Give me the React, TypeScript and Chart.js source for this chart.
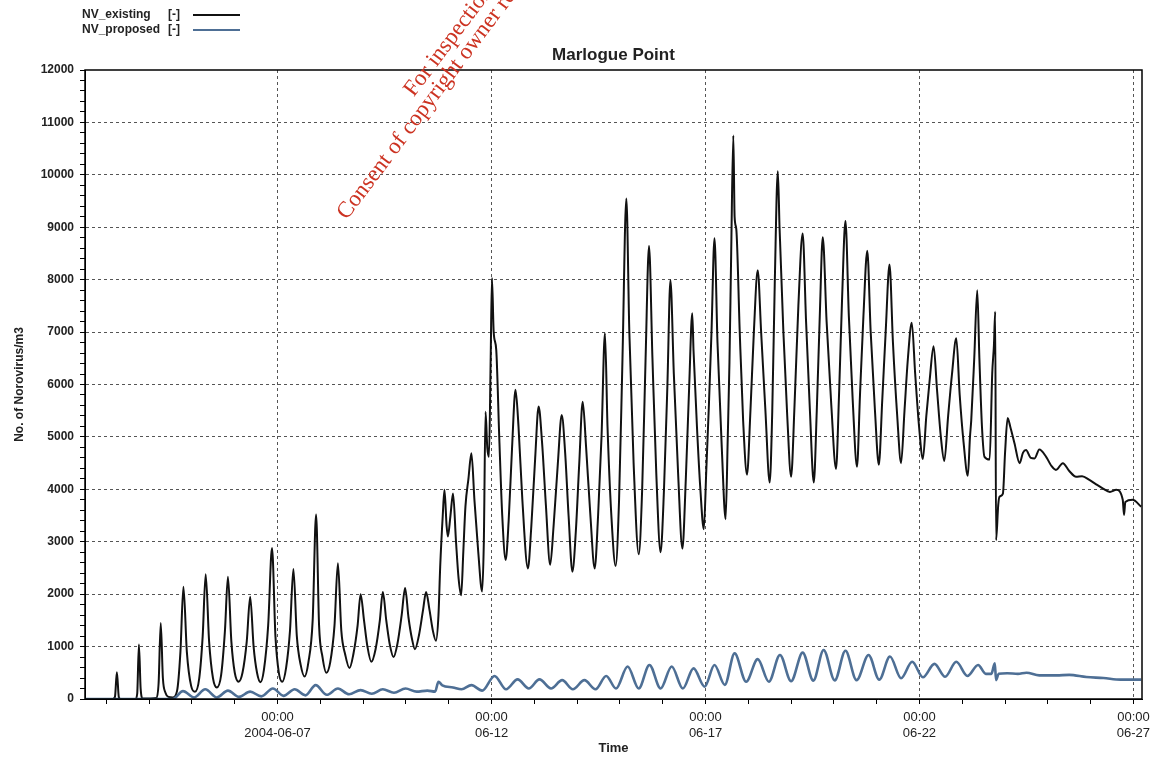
import React, { useEffect, useRef } from 'react';
import { Chart, registerables } from 'chart.js';

Chart.register(...registerables);

// ---------- data (x = day of June 2004, y = No. of Norovirus/m3) ----------
const existingDays = [
  2.5, 3.15, 3.2, 3.245, 3.29, 3.33,
  3.68, 3.72, 3.76, 3.8, 3.85,
  4.17, 4.22, 4.27, 4.32, 4.38, 4.45, 4.55,
  4.65, 4.73, 4.8, 4.88, 4.98, 5.07,
  5.17, 5.25, 5.32, 5.4, 5.49, 5.58,
  5.68, 5.77, 5.84, 5.92, 6.0, 6.09,
  6.18, 6.28, 6.36, 6.44, 6.52, 6.6,
  6.68, 6.78, 6.87, 6.95, 7.03, 7.11,
  7.2, 7.29, 7.37, 7.45, 7.54, 7.63,
  7.72, 7.82, 7.9, 7.97, 8.05, 8.14,
  8.23, 8.33, 8.41, 8.49, 8.58, 8.68,
  8.77, 8.87, 8.94, 9.02, 9.1, 9.19,
  9.29, 9.39, 9.46, 9.54, 9.62, 9.71,
  9.8, 9.9, 9.98, 10.06, 10.14, 10.21,
  10.3, 10.4, 10.47, 10.55, 10.63, 10.7,
  10.76, 10.8, 10.86, 10.9, 10.95, 10.98, 11.04, 11.1, 11.17, 11.23, 11.29,
  11.34, 11.39, 11.46, 11.53, 11.6, 11.69, 11.78,
  11.82, 11.86, 11.9, 11.94, 11.98, 12.01, 12.05, 12.11, 12.18, 12.25, 12.33,
  12.4, 12.48, 12.56, 12.63, 12.72, 12.85,
  12.93, 13.02, 13.1, 13.18, 13.27, 13.37,
  13.45, 13.55, 13.64, 13.72, 13.8, 13.89,
  13.97, 14.05, 14.13, 14.21, 14.31, 14.41,
  14.49, 14.57, 14.65, 14.71, 14.8, 14.9,
  14.98, 15.06, 15.15, 15.22, 15.32, 15.44,
  15.52, 15.6, 15.68, 15.76, 15.85, 15.95,
  16.03, 16.11, 16.18, 16.26, 16.36, 16.46,
  16.54, 16.62, 16.69, 16.72, 16.8, 16.88, 16.96,
  17.02, 17.08, 17.14, 17.21, 17.28, 17.38, 17.47,
  17.52, 17.56, 17.6, 17.65, 17.68, 17.72, 17.8, 17.88, 17.97,
  18.05, 18.13, 18.22, 18.3, 18.4, 18.5,
  18.56, 18.62, 18.69, 18.73, 18.82, 18.91, 19.0,
  19.08, 19.17, 19.27, 19.35, 19.44, 19.53,
  19.6, 19.67, 19.74, 19.83, 19.94, 20.05,
  20.12, 20.19, 20.27, 20.35, 20.44, 20.54,
  20.61, 20.69, 20.78, 20.86, 20.96, 21.05,
  21.13, 21.21, 21.3, 21.38, 21.48, 21.57,
  21.65, 21.73, 21.82, 21.9, 21.99, 22.08,
  22.16, 22.24, 22.33, 22.41, 22.5, 22.58,
  22.67, 22.76, 22.86, 22.94, 23.03, 23.13,
  23.18, 23.21, 23.28, 23.35, 23.4, 23.46, 23.52, 23.64,
  23.7, 23.74, 23.77, 23.79, 23.84, 23.87, 23.95,
  24.0, 24.06, 24.12, 24.22, 24.34, 24.42, 24.49, 24.6, 24.69, 24.8, 24.96,
  25.08, 25.19, 25.35, 25.5, 25.66, 25.8, 25.97, 26.12, 26.28, 26.45, 26.6,
  26.75, 26.78, 26.81, 26.98, 27.18,
];
const existingValues = [
  0, 0, 40, 510, 40, 0,
  0, 100, 1040, 200, 10,
  20, 300, 1450, 400, 120, 40, 30,
  150, 900, 2140, 900, 250, 140,
  400, 1200, 2380, 1100, 400, 220,
  450, 1300, 2330, 1100, 500, 330,
  500, 1100, 1950, 1000, 500, 320,
  550, 1400, 2880, 1200, 500, 330,
  600, 1300, 2480, 1200, 650, 430,
  700, 1500, 3520, 1400, 800, 500,
  700, 1400, 2590, 1300, 850, 590,
  850, 1400, 2000, 1500, 1000, 710,
  950, 1500, 2040, 1500, 1050, 800,
  1050, 1600, 2120, 1550, 1150, 950,
  1200, 1700, 2040, 1700, 1300, 1110,
  1600, 2520, 3500, 3990, 3300, 3100, 3500, 3920, 3000, 2300, 1980,
  2800, 3670, 4200, 4690, 3800, 2800, 2050,
  3000, 5480, 4800, 4620, 6500, 8030, 7000, 6660, 5000, 3500, 2650,
  3400, 4800, 5900, 5200, 3800, 2490,
  3300, 4600, 5580, 4900, 3700, 2560,
  3300, 4500, 5420, 4700, 3500, 2430,
  3200, 4500, 5670, 4800, 3500, 2490,
  3500, 5000, 6980, 5200, 3500, 2540,
  3800, 6500, 9550, 7000, 4500, 2760,
  4000, 6500, 8640, 6500, 4300, 2800,
  4000, 6000, 7990, 6200, 4300, 2870,
  4200, 6000, 7360, 6650, 5200, 4000, 3240,
  4400, 5620, 7000, 8790, 6800, 4800, 3430,
  5000, 6430, 8500, 10750, 9200, 8960, 7000, 5300, 4280,
  5500, 7000, 8180, 7000, 5500, 4130,
  5500, 8000, 10070, 9000, 7000, 5400, 4240,
  5600, 7500, 8880, 7200, 5500, 4130,
  5500, 7300, 8810, 7200, 5600, 4390,
  5800, 7600, 9120, 7300, 5700, 4430,
  5800, 7300, 8550, 7000, 5500, 4470,
  5700, 7000, 8290, 6800, 5400, 4500,
  5500, 6500, 7180, 6200, 5200, 4580,
  5400, 6100, 6730, 5900, 5000, 4540,
  5400, 6200, 6880, 5800, 4900, 4260,
  5000, 5320, 6500, 7800, 6500, 5200, 4620, 4570,
  6210, 6750, 7390, 3030, 3700, 3860, 3920,
  4700, 5360, 5200, 4880, 4500, 4700, 4750, 4600, 4590, 4760, 4620,
  4450, 4370, 4500, 4350, 4240, 4250, 4180, 4100, 4020, 3950, 3990,
  3800, 3510, 3760, 3800, 3670,
];

const proposedDays = [
  2.5, 4.55, 4.79, 5.05, 5.31, 5.58, 5.84, 6.1, 6.36, 6.62, 6.89, 7.14,
  7.4, 7.65, 7.89, 8.15, 8.41, 8.67, 8.94, 9.2, 9.46, 9.72, 9.99, 10.25,
  10.5, 10.68, 10.76, 10.85, 11.1, 11.3, 11.53, 11.78, 12.07, 12.34, 12.61, 12.87,
  13.12, 13.39, 13.65, 13.9, 14.17, 14.43, 14.68, 14.91, 15.18, 15.44, 15.69, 15.95,
  16.21, 16.47, 16.72, 16.98, 17.21, 17.45, 17.68, 17.95, 18.22, 18.48, 18.74, 19.0,
  19.27, 19.52, 19.76, 20.02, 20.27, 20.53, 20.81, 21.06, 21.31, 21.57, 21.83, 22.08,
  22.35, 22.6, 22.86, 23.12, 23.37, 23.55, 23.68, 23.76, 23.79, 23.85, 24.05, 24.3,
  24.5, 24.8, 25.2, 25.5, 25.9, 26.3, 26.7, 27.18,
];
const proposedValues = [
  0, 0, 150, 30, 185, 30, 160, 40, 140, 50, 200, 60,
  185, 70, 265, 80, 200, 90, 170, 100, 185, 120, 200, 140,
  160, 140, 330, 260, 220, 185, 265, 160, 440, 185, 375, 200,
  375, 200, 360, 185, 360, 185, 440, 200, 620, 200, 650, 200,
  620, 200, 585, 235, 650, 270, 870, 330, 760, 330, 840, 340,
  885, 350, 935, 355, 920, 360, 840, 370, 810, 395, 710, 415,
  670, 425, 710, 440, 650, 480, 480, 680, 360, 480, 490, 480,
  500, 450, 450, 460, 420, 400, 370, 370,
];

const seriesNames = ['NV_existing', 'NV_proposed'];
const seriesUnit = '[-]';
const chartTitle = 'Marlogue Point';
const yAxisTitle = 'No. of Norovirus/m3';
const xAxisTitle = 'Time';
const majorTickDays = [7, 12, 17, 22, 27];
const majorTickTimes = ['00:00', '00:00', '00:00', '00:00', '00:00'];
const majorTickDates = ['2004-06-07', '06-12', '06-17', '06-22', '06-27'];
const watermarkLines = ['For inspection purposes only.', 'Consent of copyright owner required for any other use.'];
const xMin = 2.5;
const xMax = 27.2;
const yMin = 0;
const yMax = 12000;
const yMajorStep = 1000;
const yMinorStep = 200;

const existingColor = '#111111';
const proposedColor = '#4e6f95';
const gridColor = '#555';
const FONT = '"Liberation Sans", Arial, sans-serif';

const toPoints = (xs: number[], ys: number[]) => xs.map((x, i) => ({ x, y: ys[i] }));

const decorPlugin = {
  id: 'decor',
  afterDraw(chart: any) {
    const { ctx, chartArea: a } = chart;
    ctx.save();
    ctx.strokeStyle = '#000';
    ctx.lineWidth = 1.5;
    ctx.strokeRect(a.left, a.top, a.right - a.left, a.bottom - a.top);

    ctx.fillStyle = '#222';
    ctx.font = `bold 17px ${FONT}`;
    ctx.textAlign = 'center';
    ctx.textBaseline = 'middle';
    ctx.fillText(chartTitle, (a.left + a.right) / 2, a.top - 15);

    ctx.font = `bold 12px ${FONT}`;
    ctx.textAlign = 'left';
    const colors = [existingColor, proposedColor];
    seriesNames.forEach((name, i) => {
      const y = 15 + i * 15;
      ctx.fillStyle = '#222';
      ctx.fillText(name, 82, y);
      ctx.fillText(seriesUnit, 168, y);
      ctx.strokeStyle = colors[i];
      ctx.lineWidth = 2;
      ctx.beginPath();
      ctx.moveTo(193, y);
      ctx.lineTo(240, y);
      ctx.stroke();
    });
    ctx.restore();
  },
};

const watermarkStyle = (left: number, top: number): React.CSSProperties => ({
  position: 'absolute',
  left,
  top,
  height: 22,
  lineHeight: '22px',
  fontFamily: '"Liberation Serif", "Times New Roman", serif',
  fontSize: 23,
  color: '#cc3322',
  whiteSpace: 'nowrap',
  transformOrigin: '0 100%',
  transform: 'rotate(-53deg)',
  pointerEvents: 'none',
});

export default function App() {
  const canvasRef = useRef<HTMLCanvasElement | null>(null);

  useEffect(() => {
    const canvas = canvasRef.current;
    if (!canvas) return;
    const chart = new Chart(canvas, {
      type: 'line',
      data: {
        datasets: [
          {
            label: seriesNames[1],
            data: toPoints(proposedDays, proposedValues),
            borderColor: proposedColor,
            borderWidth: 2.6,
            pointRadius: 0,
            cubicInterpolationMode: 'monotone',
            order: 0,
          },
          {
            label: seriesNames[0],
            data: toPoints(existingDays, existingValues),
            borderColor: existingColor,
            borderWidth: 2,
            pointRadius: 0,
            cubicInterpolationMode: 'monotone',
            order: 1,
          },
        ],
      },
      options: {
        responsive: false,
        animation: false,
        devicePixelRatio: 1,
        layout: { padding: { top: 70, right: 19, left: 0, bottom: 0 } },
        plugins: {
          legend: { display: false },
          title: { display: false },
          tooltip: { enabled: false },
        },
        scales: {
          x: {
            type: 'linear',
            min: xMin,
            max: xMax,
            afterBuildTicks: (scale: any) => {
              const t = [];
              for (let d = Math.ceil(xMin); d <= Math.floor(xMax); d++) t.push({ value: d });
              scale.ticks = t;
            },
            afterFit: (scale: any) => {
              scale.height = 59;
            },
            ticks: {
              autoSkip: false,
              maxRotation: 0,
              minRotation: 0,
              padding: 6,
              color: '#222',
              font: { family: FONT, size: 13 },
              callback: (value: any) => {
                const i = majorTickDays.indexOf(Number(value));
                return i >= 0 ? [majorTickTimes[i], majorTickDates[i]] : '';
              },
            },
            grid: {
              color: (c: any) =>
                c.tick && majorTickDays.indexOf(c.tick.value) >= 0 ? gridColor : 'rgba(0,0,0,0)',
              tickColor: '#000',
              tickLength: 5,
              tickBorderDash: [],
              lineWidth: 1,
            },
            border: { color: '#000', width: 1, dash: [3, 3] },
            title: {
              display: true,
              text: xAxisTitle,
              color: '#222',
              font: { family: FONT, size: 13, weight: 'bold' },
              padding: { top: 0, bottom: 2 },
            },
          },
          y: {
            type: 'linear',
            min: yMin,
            max: yMax,
            afterBuildTicks: (scale: any) => {
              const t = [];
              for (let v = yMin; v <= yMax; v += yMinorStep) t.push({ value: v });
              scale.ticks = t;
            },
            afterFit: (scale: any) => {
              scale.width = 85;
            },
            ticks: {
              autoSkip: false,
              padding: 6,
              color: '#222',
              font: { family: FONT, size: 12, weight: 'bold' },
              callback: (value: any) => (Number(value) % yMajorStep === 0 ? String(value) : ''),
            },
            grid: {
              color: (c: any) =>
                c.tick && c.tick.value % yMajorStep === 0 && c.tick.value !== yMin && c.tick.value !== yMax
                  ? gridColor
                  : 'rgba(0,0,0,0)',
              tickColor: '#000',
              tickLength: 5,
              tickBorderDash: [],
              lineWidth: 1,
            },
            border: { color: '#000', width: 1, dash: [3, 3] },
            title: {
              display: true,
              text: yAxisTitle,
              color: '#222',
              font: { family: FONT, size: 12, weight: 'bold' },
              padding: { top: 12, bottom: 0 },
            },
          },
        },
      },
      plugins: [decorPlugin],
    } as any);
    return () => chart.destroy();
  }, []);

  return (
    <div style={{ position: 'fixed', left: 0, top: 0, width: 1161, height: 758, overflow: 'hidden', background: '#fff' }}>
      <canvas ref={canvasRef} width={1161} height={758} style={{ display: 'block' }} />
      <div style={watermarkStyle(417, 78)}>{watermarkLines[0]}</div>
      <div style={watermarkStyle(350, 201)}>{watermarkLines[1]}</div>
    </div>
  );
}
